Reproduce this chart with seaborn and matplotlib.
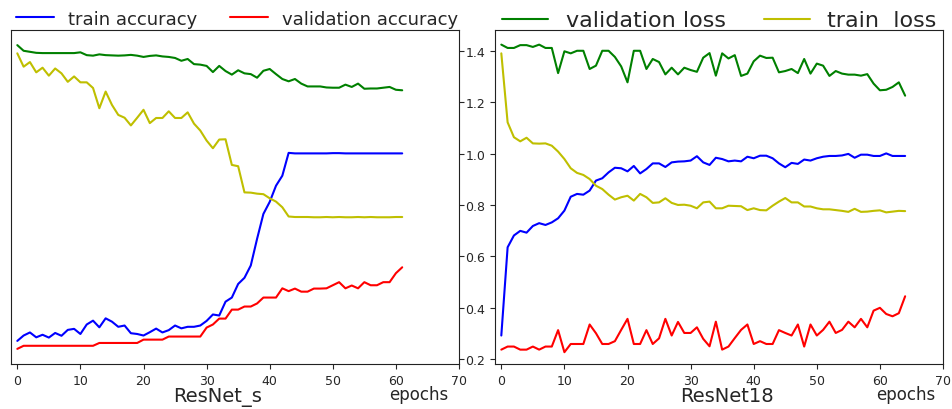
import matplotlib
matplotlib.use("Agg")
import matplotlib.pyplot as plt
import seaborn as sns
import numpy as np

sns.set_style("ticks")
plt.rcParams['font.family'] = ['DejaVu Sans']

# ---------------- data: ResNet_s (left) ----------------
s_train_acc = [0.270, 0.291, 0.303, 0.284, 0.294, 0.283, 0.301, 0.290, 0.313, 0.317,
               0.297, 0.334, 0.349, 0.323, 0.358, 0.345, 0.325, 0.330, 0.300, 0.297,
               0.291, 0.304, 0.318, 0.303, 0.312, 0.330, 0.319, 0.325, 0.325, 0.330,
               0.348, 0.373, 0.369, 0.423, 0.439, 0.492, 0.516, 0.564, 0.668, 0.765,
               0.812, 0.875, 0.914, 1.003, 1.001, 1.001, 1.001, 1.001, 1.001, 1.001,
               1.002, 1.002, 1.001, 1.001, 1.001, 1.001, 1.001, 1.001, 1.001, 1.001,
               1.001, 1.001]
s_val_acc = [0.239, 0.251, 0.251, 0.251, 0.251, 0.251, 0.251, 0.251, 0.251, 0.251,
             0.251, 0.251, 0.251, 0.262, 0.262, 0.262, 0.262, 0.262, 0.262, 0.262,
             0.275, 0.275, 0.275, 0.275, 0.287, 0.287, 0.287, 0.287, 0.287, 0.287,
             0.322, 0.334, 0.357, 0.357, 0.392, 0.392, 0.404, 0.404, 0.416, 0.439,
             0.439, 0.439, 0.475, 0.464, 0.474, 0.462, 0.462, 0.474, 0.474, 0.475,
             0.487, 0.499, 0.475, 0.486, 0.475, 0.499, 0.487, 0.487, 0.499, 0.499,
             0.534, 0.557]
s_val_loss = [1.423, 1.401, 1.397, 1.393, 1.392, 1.392, 1.392, 1.392, 1.392, 1.392,
              1.395, 1.384, 1.382, 1.387, 1.384, 1.383, 1.382, 1.383, 1.385, 1.382,
              1.377, 1.381, 1.383, 1.379, 1.377, 1.373, 1.362, 1.369, 1.349, 1.347,
              1.342, 1.318, 1.342, 1.322, 1.308, 1.325, 1.313, 1.310, 1.296, 1.323,
              1.330, 1.310, 1.291, 1.282, 1.291, 1.273, 1.262, 1.262, 1.262, 1.258,
              1.257, 1.257, 1.269, 1.260, 1.273, 1.253, 1.254, 1.254, 1.257, 1.260,
              1.249, 1.247]
s_train_loss = [1.391, 1.339, 1.357, 1.317, 1.335, 1.304, 1.332, 1.313, 1.280, 1.301,
                1.278, 1.278, 1.256, 1.177, 1.242, 1.190, 1.151, 1.140, 1.110, 1.140,
                1.171, 1.119, 1.139, 1.139, 1.165, 1.139, 1.139, 1.161, 1.117, 1.090,
                1.051, 1.021, 1.055, 1.056, 0.956, 0.951, 0.849, 0.848, 0.844, 0.842,
                0.826, 0.813, 0.791, 0.755, 0.753, 0.753, 0.753, 0.752, 0.752, 0.753,
                0.752, 0.753, 0.752, 0.752, 0.753, 0.752, 0.753, 0.752, 0.752, 0.752,
                0.753, 0.753]

# ---------------- data: ResNet18 (right) ----------------
r_train_acc = [0.291, 0.635, 0.681, 0.699, 0.692, 0.718, 0.729, 0.722, 0.732, 0.748,
               0.778, 0.832, 0.843, 0.840, 0.856, 0.895, 0.904, 0.927, 0.945, 0.943,
               0.931, 0.952, 0.923, 0.940, 0.962, 0.962, 0.948, 0.966, 0.969, 0.970,
               0.973, 0.990, 0.966, 0.956, 0.984, 0.979, 0.970, 0.973, 0.970, 0.988,
               0.982, 0.992, 0.992, 0.982, 0.962, 0.947, 0.964, 0.960, 0.977, 0.973,
               0.982, 0.988, 0.991, 0.991, 0.993, 0.999, 0.984, 0.996, 0.996, 0.991,
               0.991, 1.001, 0.991, 0.991, 0.991]
r_val_acc = [0.236, 0.248, 0.248, 0.236, 0.236, 0.248, 0.236, 0.248, 0.248, 0.312,
             0.226, 0.258, 0.258, 0.258, 0.334, 0.300, 0.258, 0.258, 0.269, 0.313,
             0.356, 0.258, 0.258, 0.312, 0.258, 0.280, 0.356, 0.291, 0.344, 0.301,
             0.301, 0.323, 0.278, 0.249, 0.345, 0.236, 0.248, 0.281, 0.313, 0.334,
             0.258, 0.269, 0.258, 0.258, 0.312, 0.301, 0.291, 0.334, 0.248, 0.334,
             0.291, 0.313, 0.345, 0.301, 0.313, 0.345, 0.323, 0.356, 0.323, 0.388,
             0.399, 0.375, 0.366, 0.378, 0.444]
r_val_loss = [1.425, 1.412, 1.412, 1.423, 1.423, 1.416, 1.425, 1.412, 1.412, 1.314,
              1.399, 1.391, 1.401, 1.401, 1.330, 1.343, 1.401, 1.401, 1.377, 1.340,
              1.278, 1.401, 1.401, 1.330, 1.369, 1.357, 1.309, 1.335, 1.309, 1.335,
              1.326, 1.319, 1.374, 1.392, 1.304, 1.391, 1.371, 1.384, 1.303, 1.312,
              1.360, 1.382, 1.373, 1.374, 1.317, 1.322, 1.330, 1.314, 1.369, 1.312,
              1.351, 1.343, 1.303, 1.322, 1.312, 1.308, 1.308, 1.304, 1.310, 1.273,
              1.247, 1.249, 1.260, 1.278, 1.226]
r_train_loss = [1.391, 1.122, 1.064, 1.048, 1.062, 1.040, 1.039, 1.040, 1.031, 1.008,
                0.979, 0.943, 0.925, 0.917, 0.901, 0.875, 0.862, 0.840, 0.821, 0.830,
                0.836, 0.817, 0.843, 0.830, 0.808, 0.810, 0.826, 0.808, 0.800, 0.801,
                0.797, 0.787, 0.810, 0.813, 0.787, 0.787, 0.797, 0.796, 0.795, 0.780,
                0.787, 0.780, 0.779, 0.797, 0.813, 0.827, 0.810, 0.810, 0.794, 0.794,
                0.787, 0.783, 0.783, 0.780, 0.777, 0.773, 0.785, 0.773, 0.774, 0.777,
                0.779, 0.771, 0.774, 0.777, 0.776]

epochs_s = list(range(len(s_train_acc)))
epochs_r = list(range(len(r_train_acc)))
xticks = [0, 10, 20, 30, 40, 50, 60, 70]
yticks = [0.2, 0.4, 0.6, 0.8, 1.0, 1.2, 1.4]

fig = plt.figure(figsize=(9.53, 4.10), dpi=100)
axL = fig.add_axes([11/953, 45/410, 448/953, 334/410])
axR = fig.add_axes([495/953, 45/410, 448/953, 334/410])

lw = 1.5
C_BLUE, C_RED, C_GREEN, C_YEL = (0, 0, 1), (1, 0, 0), (0, 0.5, 0), (0.75, 0.75, 0)
for ax, ep, ta, va, vl, tl in [(axL, epochs_s, s_train_acc, s_val_acc, s_val_loss, s_train_loss),
                                (axR, epochs_r, r_train_acc, r_val_acc, r_val_loss, r_train_loss)]:
    sns.lineplot(x=ep, y=ta, color=C_BLUE, lw=lw, ax=ax, label='train accuracy')
    sns.lineplot(x=ep, y=va, color=C_RED, lw=lw, ax=ax, label='validation accuracy')
    sns.lineplot(x=ep, y=vl, color=C_GREEN, lw=lw, ax=ax, label='validation loss')
    sns.lineplot(x=ep, y=tl, color=C_YEL, lw=lw, ax=ax, label='train  loss')
    ax.set_xlim(-1, 70)
    ax.set_ylim(0.18, 1.482)
    ax.set_xticks(xticks)
    ax.tick_params(axis='x', labelsize=9)
    ax.tick_params(axis='y', labelsize=9)
    for sp in ax.spines.values():
        sp.set_visible(True)
        sp.set_color('#222222')
    ax.get_legend().remove()

# left: y ticks on right side, no labels
axL.set_yticks(yticks)
axL.yaxis.tick_right()
axL.set_yticklabels([])
axR.set_yticks(yticks)
axR.set_yticklabels([f"{v:.1f}" for v in yticks])

axL.set_xlabel('')
axR.set_xlabel('')
fig.text(218/953, 8/410, 'ResNet_s', fontsize=14, ha='center', va='baseline')
fig.text(727/953, 8/410, 'ResNet18', fontsize=14, ha='center', va='baseline')
fig.text(419/953, 10/410, 'epochs', fontsize=12, ha='center', va='baseline')
fig.text(906/953, 10/410, 'epochs', fontsize=12, ha='center', va='baseline')

hL, lL = axL.get_legend_handles_labels()
fig.legend(hL[:2], lL[:2], ncol=2, frameon=False, fontsize=13,
           loc='center left', bbox_to_anchor=(16/953, 0.952), handlelength=2.1,
           columnspacing=1.8, handletextpad=0.8, borderpad=0.0, borderaxespad=0.0)
hR, lR = axR.get_legend_handles_labels()
fig.legend(hR[2:], lR[2:], ncol=2, frameon=False, fontsize=16,
           loc='center left', bbox_to_anchor=(502/953, 0.948), handlelength=2.07,
           columnspacing=1.7, handletextpad=0.8, borderpad=0.0, borderaxespad=0.0)

fig.savefig('out.png', dpi=100)
